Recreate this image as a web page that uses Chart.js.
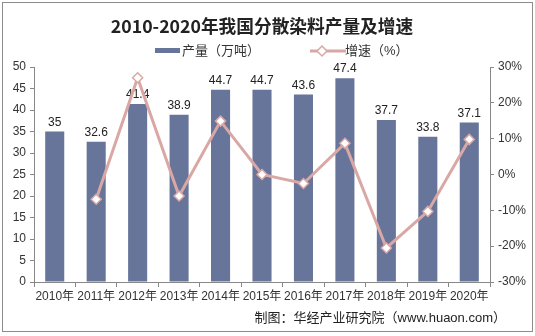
<!DOCTYPE html>
<html>
<head>
<meta charset="utf-8">
<script src="https://cdn.jsdelivr.net/npm/chart.js@4/dist/chart.umd.min.js"></script>
<style>
  html, body { margin: 0; padding: 0; background: #fff; }
  #wrap { position: relative; width: 535px; height: 336px; }
  #frame { position: absolute; left: 2px; top: 2px; width: 529px; height: 328px; border: 1px solid #8c8c8c; }
  canvas { position: absolute; left: 0; top: 0; }
</style>
</head>
<body>
<div id="wrap">
  <div id="frame"></div>
  <canvas id="chart" width="535" height="336"></canvas>
</div>
<script>
// data
const years = ['2010年', '2011年', '2012年', '2013年', '2014年', '2015年', '2016年', '2017年', '2018年', '2019年', '2020年'];
const output = [35, 32.6, 41.4, 38.9, 44.7, 44.7, 43.6, 47.4, 37.7, 33.8, 37.1];
const growth = [null, -6.9, 27.0, -6.0, 14.9, 0, -2.5, 8.7, -20.5, -10.3, 9.8];

const titleText = '2010-2020年我国分散染料产量及增速';
const sourceText = '制图：华经产业研究院（www.huaon.com）';

const barColor = '#68759a';
const lineColor = '#d9a8a5';
const textColor = '#333';
const fontFamily = "'Liberation Sans', 'Noto Sans CJK SC', sans-serif";

// labels above bars, drawn right after the bars so the line goes over them
const barLabels = {
    id: 'barLabels',
    afterDatasetDraw(chart, args) {
        if (args.index !== 0) return;
        const ctx = chart.ctx;
        ctx.save();
        ctx.font = '12px ' + fontFamily;
        ctx.fillStyle = '#222';
        ctx.textAlign = 'center';
        ctx.textBaseline = 'bottom';
        args.meta.data.forEach((bar, i) => {
            ctx.fillText(String(output[i]), bar.x, bar.y - 3);
        });
        ctx.restore();
    }
};

// title, legend and source text
const decorations = {
    id: 'decorations',
    afterDraw(chart) {
        const ctx = chart.ctx;
        ctx.save();
        ctx.fillStyle = '#222';
        ctx.textBaseline = 'middle';
        ctx.textAlign = 'center';
        ctx.font = "bold 17.7px 'Noto Sans CJK SC', serif";
        ctx.fillText(titleText, 262, 26);

        // legend
        ctx.font = '13px ' + fontFamily;
        ctx.textAlign = 'left';
        ctx.fillStyle = barColor;
        ctx.fillRect(155, 48, 25, 5);
        ctx.fillStyle = textColor;
        ctx.fillText('产量（万吨）', 182, 51);

        ctx.strokeStyle = lineColor;
        ctx.lineWidth = 3;
        ctx.beginPath();
        ctx.moveTo(310, 51);
        ctx.lineTo(346, 51);
        ctx.stroke();
        ctx.fillStyle = '#fff';
        ctx.lineWidth = 1.5;
        ctx.beginPath();
        ctx.moveTo(322, 46);
        ctx.lineTo(327, 51);
        ctx.lineTo(322, 56);
        ctx.lineTo(317, 51);
        ctx.closePath();
        ctx.fill();
        ctx.stroke();
        ctx.fillStyle = textColor;
        ctx.fillText('增速（%）', 345, 51);

        // source
        ctx.textAlign = 'right';
        ctx.fillStyle = '#222';
        ctx.fillText(sourceText, 506, 318);
        ctx.restore();
    }
};

const ctx = document.getElementById('chart').getContext('2d');
const chart = new Chart(ctx, {
    data: {
        labels: years,
        datasets: [
            {
                type: 'bar',
                label: '产量（万吨）',
                data: output,
                backgroundColor: barColor,
                categoryPercentage: 1,
                barPercentage: 0.46,
                yAxisID: 'y',
                order: 2
            },
            {
                type: 'line',
                label: '增速（%）',
                data: growth,
                borderColor: lineColor,
                borderWidth: 3,
                pointStyle: 'rectRot',
                pointRadius: 5,
                pointBackgroundColor: '#fff',
                pointBorderColor: lineColor,
                pointBorderWidth: 1.5,
                tension: 0,
                spanGaps: false,
                yAxisID: 'y1',
                order: 1
            }
        ]
    },
    options: {
        responsive: false,
        animation: false,
        layout: { padding: { top: 67, left: 0, right: 0, bottom: 0 } },
        plugins: {
            legend: { display: false },
            title: { display: false },
            tooltip: { enabled: false }
        },
        scales: {
            x: {
                offset: true,
                grid: { display: true, drawOnChartArea: false, tickLength: 5, color: '#888' },
                border: { color: '#888' },
                ticks: { color: textColor, font: { size: 12, family: fontFamily }, padding: 2, maxRotation: 0, autoSkip: false },
                afterFit(s) { s.height = 54; }
            },
            y: {
                position: 'left',
                min: 0,
                max: 50,
                ticks: { stepSize: 5, color: textColor, font: { size: 12, family: fontFamily }, padding: 4 },
                grid: { display: true, drawOnChartArea: false, tickLength: 4, color: '#888' },
                border: { color: '#888' },
                afterFit(s) { s.width = 34; }
            },
            y1: {
                position: 'right',
                min: -30,
                max: 30,
                ticks: {
                    stepSize: 10,
                    color: textColor,
                    font: { size: 12, family: fontFamily },
                    padding: 4,
                    callback: v => v + '%'
                },
                grid: { display: true, drawOnChartArea: false, tickLength: 4, color: '#888' },
                border: { color: '#888' },
                afterFit(s) { s.width = 45; }
            }
        }
    },
    plugins: [barLabels, decorations]
});
</script>
</body>
</html>
